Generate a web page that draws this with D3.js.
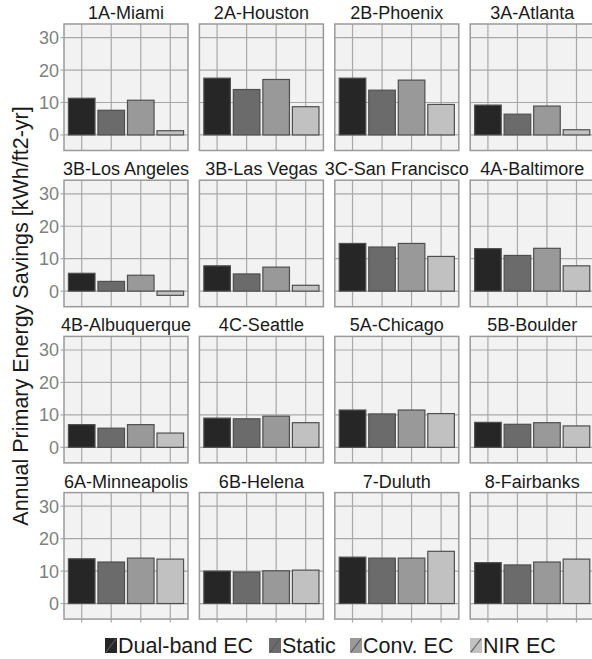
<!DOCTYPE html>
<html>
<head>
<meta charset="utf-8">
<script src="https://cdn.jsdelivr.net/npm/d3@7"></script>
<style>
	body { margin: 0; background: #fff; }
	svg { display: block; font-family: "Liberation Sans", Arial, Helvetica, sans-serif; }
</style>
</head>
<body>
<div id="chart"></div>
<script>

var cities = [
	"1A-Miami", "2A-Houston", "2B-Phoenix", "3A-Atlanta",
	"3B-Los Angeles", "3B-Las Vegas", "3C-San Francisco", "4A-Baltimore",
	"4B-Albuquerque", "4C-Seattle", "5A-Chicago", "5B-Boulder",
	"6A-Minneapolis", "6B-Helena", "7-Duluth", "8-Fairbanks"
];

var series = ["Dual-band EC", "Static", "Conv. EC", "NIR EC"];

var dualBand = [11.3, 17.5, 17.5, 9.2, 5.5, 7.8, 14.7, 13.1, 7.0, 9.0, 11.5, 7.7, 13.8, 10.0, 14.3, 12.6];
var staticGlass = [7.6, 14.0, 13.8, 6.4, 3.0, 5.3, 13.6, 11.0, 5.9, 8.8, 10.3, 7.1, 12.8, 9.7, 14.0, 11.9];
var convEC = [10.7, 17.1, 16.9, 8.9, 4.9, 7.4, 14.7, 13.2, 7.0, 9.6, 11.5, 7.6, 14.0, 10.1, 14.0, 12.8];
var nirEC = [1.3, 8.7, 9.4, 1.6, -1.3, 1.8, 10.7, 7.8, 4.4, 7.6, 10.4, 6.6, 13.7, 10.3, 16.1, 13.7];

var yTicks = [0, 10, 20, 30];
var fills = ["#262626", "#6b6b6b", "#999999", "#c1c1c1"];

var width = 592, height = 659;
var panelW = 124, panelH = 126.5;
var panelLeft = 64, panelTop = 24, pitchX = 135.4, pitchY = 156.2;
var nCol = 4;

var svg = d3.select("#chart")
	.append("svg")
	.attr("width", width)
	.attr("height", height);

var x = d3.scaleBand()
	.domain(series)
	.range([0, panelW])
	.paddingInner(0.1)
	.paddingOuter(0.15);

var y = d3.scaleLinear()
	.domain([-4.8, 34.2])
	.range([panelH, 0]);

var allValues = [dualBand, staticGlass, convEC, nirEC];

cities.forEach(function(city, i) {
	var col = i % nCol, row = Math.floor(i / nCol);
	var g = svg.append("g")
		.attr("transform", "translate(" + (panelLeft + col * pitchX) + "," + (panelTop + row * pitchY) + ")");

	g.append("rect")
		.attr("width", panelW)
		.attr("height", panelH)
		.attr("fill", "#f2f2f2");

	// grid
	g.selectAll("line.hgrid")
		.data(yTicks)
		.enter().append("line")
		.attr("class", "hgrid")
		.attr("x1", 0).attr("x2", panelW)
		.attr("y1", function(d) { return y(d); })
		.attr("y2", function(d) { return y(d); })
		.attr("stroke", "#a8a8a8")
		.attr("stroke-width", 1.2);

	g.selectAll("line.vgrid")
		.data(series)
		.enter().append("line")
		.attr("class", "vgrid")
		.attr("y1", 0).attr("y2", panelH)
		.attr("x1", function(d) { return x(d) + x.bandwidth() / 2; })
		.attr("x2", function(d) { return x(d) + x.bandwidth() / 2; })
		.attr("stroke", "#a8a8a8")
		.attr("stroke-width", 1.2);

	var vals = series.map(function(s, k) { return { s: s, v: allValues[k][i], k: k }; });

	g.selectAll("rect.bar")
		.data(vals)
		.enter().append("rect")
		.attr("class", "bar")
		.attr("x", function(d) { return x(d.s); })
		.attr("width", x.bandwidth())
		.attr("y", function(d) { return Math.min(y(d.v), y(0)); })
		.attr("height", function(d) { return Math.abs(y(d.v) - y(0)); })
		.attr("fill", function(d) { return fills[d.k]; })
		.attr("stroke", "#4f4f4f")
		.attr("stroke-width", 1.2);

	g.append("rect")
		.attr("width", panelW)
		.attr("height", panelH)
		.attr("fill", "none")
		.attr("stroke", "#9a9a9a")
		.attr("stroke-width", 1.5);

	// strip label
	g.append("text")
		.attr("x", panelW / 2)
		.attr("y", -5)
		.attr("text-anchor", "middle")
		.attr("font-size", "18px")
		.attr("fill", "#1a1a1a")
		.text(city);

	if (col === 0) {
		g.selectAll("line.ytick")
			.data(yTicks)
			.enter().append("line")
			.attr("class", "ytick")
			.attr("x1", -3.5).attr("x2", 0)
			.attr("y1", function(d) { return y(d); })
			.attr("y2", function(d) { return y(d); })
			.attr("stroke", "#a8a8a8")
			.attr("stroke-width", 1.2);
		g.selectAll("text.ylab")
			.data(yTicks)
			.enter().append("text")
			.attr("class", "ylab")
			.attr("x", -5)
			.attr("y", function(d) { return y(d); })
			.attr("dy", "0.36em")
			.attr("text-anchor", "end")
			.attr("font-size", "18px")
			.attr("fill", "#7f7f7f")
			.text(function(d) { return d; });
	}

	if (row === 3) {
		g.selectAll("line.xtick")
			.data(series)
			.enter().append("line")
			.attr("class", "xtick")
			.attr("y1", panelH).attr("y2", panelH + 3.5)
			.attr("x1", function(d) { return x(d) + x.bandwidth() / 2; })
			.attr("x2", function(d) { return x(d) + x.bandwidth() / 2; })
			.attr("stroke", "#a8a8a8")
			.attr("stroke-width", 1.2);
	}
});

// y title
svg.append("text")
	.attr("transform", "translate(28,316) rotate(-90)")
	.attr("text-anchor", "middle")
	.attr("font-size", "21.5px")
	.attr("fill", "#1a1a1a")
	.text("Annual Primary Energy Savings [kWh/ft2-yr]");

// legend
var legendX = [105, 269, 350, 470];
var legend = svg.selectAll("g.legend")
	.data(series)
	.enter().append("g")
	.attr("class", "legend")
	.attr("transform", function(d, i) { return "translate(" + legendX[i] + ",638)"; });

legend.append("rect")
	.attr("width", 12)
	.attr("height", 15)
	.attr("fill", function(d, i) { return fills[i]; });

legend.append("line")
	.attr("x1", 1).attr("y1", 14)
	.attr("x2", 11).attr("y2", 1)
	.attr("stroke", "#5a5a5a")
	.attr("stroke-width", 1.2);

legend.append("text")
	.attr("x", 13)
	.attr("y", 15)
	.attr("font-size", "21.5px")
	.attr("fill", "#1a1a1a")
	.text(function(d) { return d; });

</script>
</body>
</html>
